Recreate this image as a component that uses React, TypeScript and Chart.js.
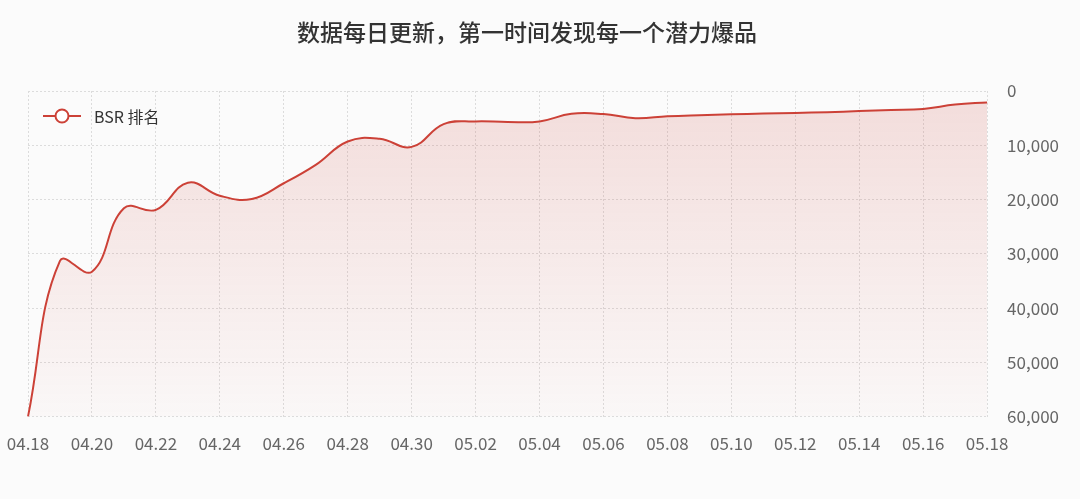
import React, { useEffect, useRef } from 'react';
import { Chart, registerables } from 'chart.js';
import type { ChartConfiguration, Plugin } from 'chart.js';

Chart.register(...registerables);

const TITLE = '数据每日更新，第一时间发现每一个潜力爆品';
const SERIES_NAME = 'BSR 排名';

const dates = [
  '04.18', '04.19', '04.20', '04.21', '04.22', '04.23', '04.24', '04.25',
  '04.26', '04.27', '04.28', '04.29', '04.30', '05.01', '05.02', '05.03',
  '05.04', '05.05', '05.06', '05.07', '05.08', '05.09', '05.10', '05.11',
  '05.12', '05.13', '05.14', '05.15', '05.16', '05.17', '05.18',
];

const bsrRank = [
  60000, 31300, 33300, 21600, 21900, 16900, 19300, 19900,
  17000, 13600, 9300, 8800, 10300, 6100, 5600, 5700,
  5600, 4200, 4250, 5000, 4650, 4450, 4300, 4150,
  4050, 3900, 3700, 3500, 3300, 2500, 2100,
];

const yTicks = [0, 10000, 20000, 30000, 40000, 50000, 60000];

const LINE = '#cc4137';
const FONT = '"Noto Sans CJK SC", "Noto Sans", sans-serif';
const BG = '#fbfbfb';

// title above the plot, plus a legend drawn inside the plot at its top-left
const titleAndLegend: Plugin<'line'> = {
  id: 'titleAndLegend',
  afterDraw(chart) {
    const { ctx, chartArea } = chart;
    const ds = chart.data.datasets[0];
    ctx.save();

    ctx.fillStyle = '#333333';
    ctx.font = `500 23px ${FONT}`;
    ctx.textAlign = 'center';
    ctx.textBaseline = 'middle';
    ctx.fillText(TITLE, 527, 32);

    const x = chartArea.left + 15;
    const y = chartArea.top + 25;
    ctx.strokeStyle = LINE;
    ctx.lineWidth = 2;
    ctx.beginPath();
    ctx.moveTo(x, y);
    ctx.lineTo(x + 38, y);
    ctx.stroke();
    ctx.beginPath();
    ctx.arc(x + 19, y, 6.5, 0, Math.PI * 2);
    ctx.fillStyle = '#ffffff';
    ctx.fill();
    ctx.stroke();
    ctx.fillStyle = '#333333';
    ctx.font = `16px ${FONT}`;
    ctx.textAlign = 'left';
    ctx.fillText(String(ds.label), x + 51, y + 1);
    ctx.restore();
  },
};

export default function App() {
  const canvasRef = useRef<HTMLCanvasElement>(null);
  const chartRef = useRef<Chart | null>(null);

  useEffect(() => {
    document.body.style.margin = '0';
    document.body.style.background = BG;
    if (!canvasRef.current) return;

    const config: ChartConfiguration<'line'> = {
      type: 'line',
      data: {
        labels: dates,
        datasets: [
          {
            label: SERIES_NAME,
            data: bsrRank,
            borderColor: LINE,
            borderWidth: 2,
            pointRadius: 0,
            pointHoverRadius: 0,
            tension: 0.42,
            fill: 'start',
            backgroundColor: (context) => {
              const area = context.chart.chartArea;
              if (!area) return 'rgba(204,65,55,0.1)';
              const g = context.chart.ctx.createLinearGradient(0, area.top, 0, area.bottom);
              g.addColorStop(0, 'rgba(204,65,55,0.16)');
              g.addColorStop(1, 'rgba(204,65,55,0.02)');
              return g;
            },
          },
        ],
      },
      options: {
        responsive: true,
        maintainAspectRatio: false,
        animation: false,
        layout: {
          padding: { left: 28, right: 1, bottom: 28, top: 91 },
        },
        scales: {
          x: {
            afterFit: (scale) => {
              // labels may overhang the plot edges; keep the plot where the layout padding puts it
              scale.paddingLeft = 0;
              scale.paddingRight = 0;
            },
            grid: {
              drawTicks: false,
              color: (c) => (c.index % 2 === 0 ? '#dcdcdc' : 'rgba(0,0,0,0)'),
            },
            border: { display: false, dash: [2, 2] },
            ticks: {
              autoSkip: false,
              maxRotation: 0,
              padding: 17,
              color: '#666666',
              font: { family: FONT, size: 17 },
              callback: (_v, i) => (i % 2 === 0 ? dates[i] : ''),
            },
          },
          y: {
            position: 'right',
            reverse: true,
            min: yTicks[0],
            max: yTicks[yTicks.length - 1],
            afterBuildTicks: (axis) => {
              axis.ticks = yTicks.map((v) => ({ value: v }));
            },
            grid: { drawTicks: false, color: '#dcdcdc' },
            border: { display: false, dash: [2, 2] },
            ticks: {
              padding: 20,
              color: '#666666',
              font: { family: FONT, size: 17 },
              callback: (v) => Number(v).toLocaleString('en-US'),
            },
          },
        },
        plugins: {
          legend: { display: false },
          tooltip: { enabled: false },
          title: { display: false },
        },
      },
      plugins: [titleAndLegend],
    };

    chartRef.current = new Chart(canvasRef.current, config);

    return () => {
      if (chartRef.current) {
        chartRef.current.destroy();
        chartRef.current = null;
      }
    };
  }, []);

  return (
    <div style={{ width: 1080, height: 499, background: BG, position: 'relative' }}>
      <canvas ref={canvasRef}></canvas>
    </div>
  );
}
